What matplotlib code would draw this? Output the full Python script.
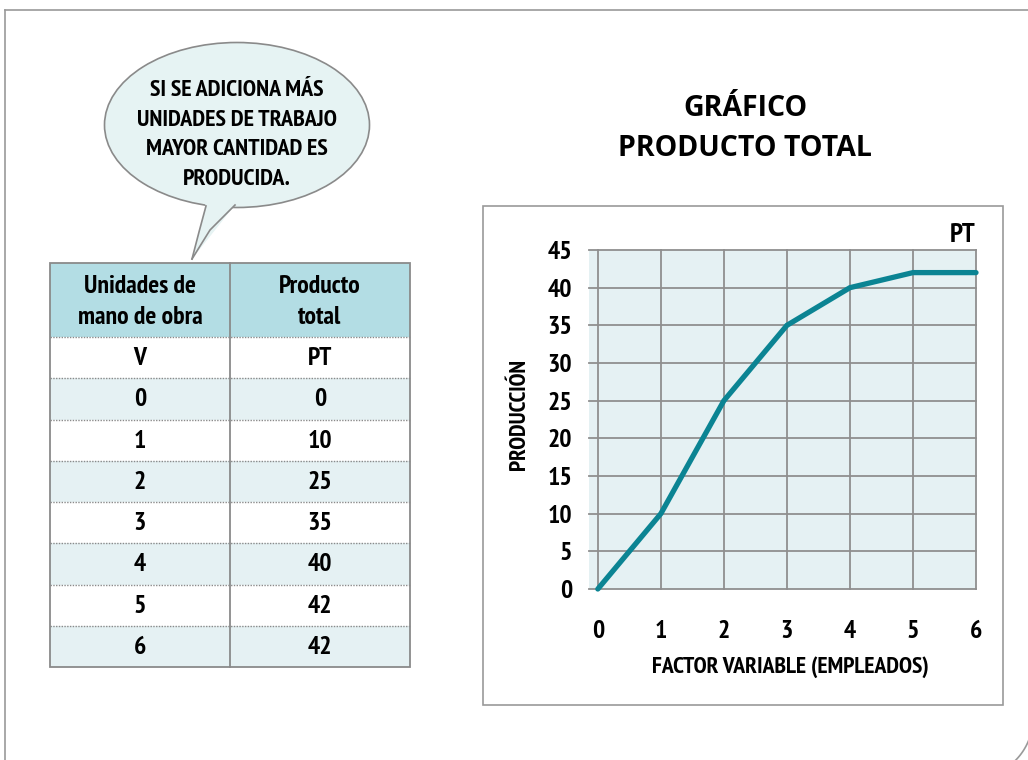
import numpy as np
import matplotlib
matplotlib.use('Agg')
import matplotlib.pyplot as plt
from matplotlib.patches import Ellipse, Polygon, Rectangle

# data
units = [0, 1, 2, 3, 4, 5, 6]
total = [0, 10, 25, 35, 40, 42, 42]
yticks = [0, 5, 10, 15, 20, 25, 30, 35, 40, 45]
col_headers = ['Unidades de\nmano de obra', 'Producto\ntotal']
col_symbols = ['V', 'PT']
bubble_text = 'SI SE ADICIONA MÁS\nUNIDADES DE TRABAJO\nMAYOR CANTIDAD ES\nPRODUCIDA.'
title = 'GRÁFICO\nPRODUCTO TOTAL'

COND = ['PT Sans Narrow', 'Open Sans Condensed', 'DejaVu Sans']
TITLE_FONT = ['Open Sans', 'DejaVu Sans']
TEAL = '#0b8493'
GRID = '#8f8f8f'
LIGHT = '#e5f1f3'
HEAD = '#b3dde4'
EDGE = '#9a9a9a'

W, H = 1028, 760
fig = plt.figure(figsize=(W / 100, H / 100), dpi=100)

# overlay in pixel coordinates for the page decorations
ov = fig.add_axes([0, 0, 1, 1])
ov.set_xlim(0, W)
ov.set_ylim(H, 0)
ov.axis('off')

# page frame: left and top edges, rounded corner bottom-right
ov.plot([5, 5], [H, 10], color=EDGE, lw=1.2)
ov.plot([5, W], [10, 10], color=EDGE, lw=1.2)
th = np.radians(np.linspace(0, 90, 60))
ov.plot(973 + 60 * np.cos(th), 718 + 60 * np.sin(th), color=EDGE, lw=1.2)

# speech bubble
ov.add_patch(Ellipse((237, 125), 265, 165, fc='#e6f3f3', ec='#8a8a8a', lw=1.2, zorder=2))
ov.add_patch(Polygon([(204, 200), (206, 207), (192, 259), (235, 205), (238, 200)],
                     closed=True, fc='#e6f3f3', ec='none', zorder=3))
ov.plot([206, 199, 192], [206, 232, 259], color='#8a8a8a', lw=1.2, zorder=4)
ov.plot([235, 210, 192], [205, 230, 259], color='#8a8a8a', lw=1.2, zorder=4)
ov.text(237, 135, bubble_text, ha='center', va='center', family=COND, weight='bold',
        fontsize=17.3, linespacing=1.55, zorder=5)

# table
tx0, tx1, tmid = 50, 410, 230
hy0, hy1 = 263, 337
row_h = (667 - 337) / 8
ov.add_patch(Rectangle((tx0, hy0), tx1 - tx0, hy1 - hy0, fc=HEAD, ec='none'))
for cx, lab in zip([(tx0 + tmid) / 2, (tmid + tx1) / 2], col_headers):
    ov.text(cx, (hy0 + hy1) / 2 + 2, lab, ha='center', va='center',
            family=COND, weight='bold', fontsize=18.5, linespacing=1.45)
rows = [col_symbols] + [[str(u), str(t)] for u, t in zip(units, total)]
for i, (a, b) in enumerate(rows):
    y0 = hy1 + i * row_h
    ov.add_patch(Rectangle((tx0, y0), tx1 - tx0, row_h, fc=LIGHT if i % 2 else 'white', ec='none'))
    ov.plot([tx0, tx1], [y0, y0], color='#8a8a8a', lw=1, ls=(0, (1, 1)))
    ov.text((tx0 + tmid) / 2, y0 + row_h / 2 + 1, a, ha='center', va='center',
            family=COND, weight='bold', fontsize=18.5)
    ov.text((tmid + tx1) / 2, y0 + row_h / 2 + 1, b, ha='center', va='center',
            family=COND, weight='bold', fontsize=18.5)
ov.add_patch(Rectangle((tx0, hy0), tx1 - tx0, 667 - hy0, fc='none', ec='#8a8a8a', lw=1.3))
ov.plot([tmid, tmid], [hy0, 667], color='#8a8a8a', lw=1.3)

# chart box and title
ov.add_patch(Rectangle((483, 206), 520, 499, fc='none', ec=EDGE, lw=1.2))
ov.text(745, 128, title, ha='center', va='center', family=TITLE_FONT,
        weight='bold', fontsize=20.5, linespacing=1.5)
ov.text(520, 415, 'PRODUCCIÓN', rotation=90, ha='center', va='center',
        family=COND, weight='bold', fontsize=16.8)
ov.text(790, 667, 'FACTOR VARIABLE (EMPLEADOS)', ha='center', va='center',
        family=COND, weight='bold', fontsize=17)
ov.text(963, 235, 'PT', ha='center', va='center', family=COND, weight='bold', fontsize=19.5)

# plot axes
ax = fig.add_axes([589 / W, 1 - 589 / H, (976 - 589) / W, (589 - 250) / H])
ax.set_facecolor(LIGHT)
ax.plot(units, total, color=TEAL, lw=3.8, solid_capstyle='round', solid_joinstyle='miter',
        zorder=3, clip_on=False)
ax.set_xlim(-0.14, 6)
ax.set_ylim(0, 45)
ax.set_xticks(units)
ax.set_yticks(yticks)
ax.grid(True, color=GRID, lw=1.3)
for line in ax.get_xgridlines() + ax.get_ygridlines():
    line.set_clip_on(False)
for s in ax.spines.values():
    s.set_visible(False)
ax.tick_params(length=0, labelsize=18.5)
ax.tick_params(axis='x', pad=22)
ax.tick_params(axis='y', pad=12)
for lab in ax.get_xticklabels() + ax.get_yticklabels():
    lab.set_family(COND)
    lab.set_weight('bold')

fig.savefig('out.png', dpi=100)
